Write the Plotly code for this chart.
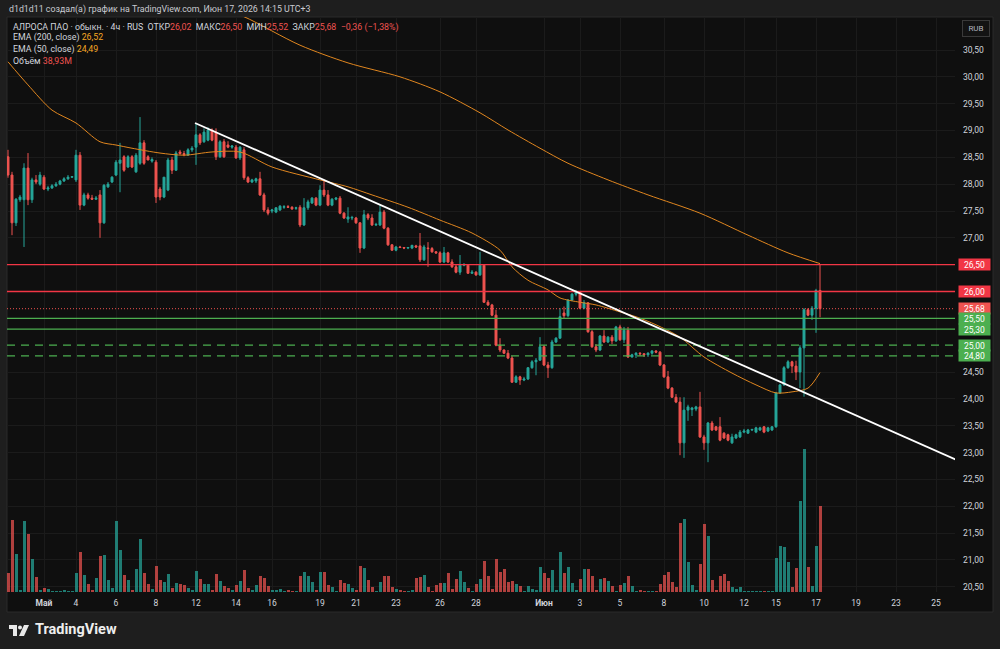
import plotly.graph_objects as go

# ---------------- data (ALROSA, 4h bars) ----------------
opens = [
28.51,28.17,27.28,27.71,27.71,28.30,27.71,28.08,28.00,28.13,
27.91,27.93,27.97,28.00,28.06,28.10,28.13,28.08,28.54,27.61,
27.80,27.74,27.72,27.80,27.28,27.95,28.04,28.17,28.39,28.51,
28.32,28.51,28.23,28.39,28.77,28.51,28.43,28.41,27.91,27.76,
27.89,28.45,28.26,28.60,28.57,28.54,28.64,28.69,28.92,28.79,
28.82,29.01,28.97,28.51,28.79,28.73,28.69,28.69,28.49,28.64,
28.12,28.04,28.06,28.10,27.80,27.52,27.50,27.48,27.52,27.57,
27.58,27.57,27.55,27.57,27.24,27.56,27.65,27.74,27.61,27.89,
27.80,27.61,27.72,27.74,27.46,27.35,27.37,27.37,27.28,26.81,
27.43,27.37,27.24,27.24,27.48,27.18,26.87,26.77,26.83,26.82,
26.81,26.81,26.85,26.85,26.59,26.81,26.80,26.74,26.72,26.55,
26.72,26.55,26.46,26.36,26.49,26.49,26.34,26.36,26.31,26.49,
25.80,25.75,25.56,25.00,24.91,24.85,24.76,24.31,24.41,24.35,
24.37,24.58,24.69,24.72,24.97,24.63,24.58,25.06,25.13,25.60,
25.55,25.84,25.95,25.99,25.69,25.79,25.25,24.97,24.91,25.17,
25.06,25.15,25.08,25.34,25.10,25.28,24.78,24.82,24.85,24.84,
24.82,24.85,24.89,24.87,24.63,24.41,24.20,24.03,23.94,23.18,
23.79,23.80,23.81,23.85,23.29,23.18,23.55,23.48,23.48,23.36,
23.33,23.18,23.27,23.29,23.38,23.36,23.42,23.38,23.42,23.48,
23.40,23.42,23.48,24.11,24.26,24.58,24.69,24.61,24.50,24.95,
25.66,25.56,25.69,26.02]
highs = [
28.64,28.23,27.74,27.80,28.39,28.58,28.12,28.17,28.23,28.17,
27.97,28.00,28.04,28.08,28.13,28.17,28.15,28.64,28.60,27.84,
27.84,27.80,27.78,27.89,28.00,28.04,28.15,28.45,28.77,28.54,
28.54,28.54,28.58,29.25,28.82,28.54,28.50,28.45,27.95,28.13,
28.49,28.51,28.62,28.64,28.62,28.67,28.71,29.14,28.95,29.04,
29.06,29.04,29.04,28.82,28.84,28.80,28.73,28.73,28.71,28.69,
28.15,28.10,28.12,28.23,27.84,27.57,27.54,27.57,27.61,27.61,
27.61,27.59,27.58,27.61,27.74,27.71,27.76,27.76,27.98,28.08,
27.89,27.74,27.76,27.78,27.48,27.57,27.41,27.39,27.29,27.52,
27.46,27.44,27.28,27.61,27.52,27.20,26.88,26.85,26.85,26.83,
26.83,26.87,26.87,27.09,26.87,26.92,26.83,26.75,26.75,26.83,
26.74,26.60,26.51,26.68,26.53,26.51,26.40,26.38,26.74,26.51,
25.84,25.77,25.66,25.13,24.92,24.91,24.80,24.44,24.43,24.41,
24.59,24.72,24.76,25.15,25.00,24.69,25.10,25.15,25.69,25.72,
25.86,25.97,26.03,26.01,25.84,25.80,25.28,25.02,25.19,25.28,
25.17,25.19,25.36,25.38,25.34,25.34,24.84,24.87,24.87,24.85,
24.87,24.91,24.91,24.89,24.65,24.52,24.22,24.09,24.03,24.03,
23.89,23.85,23.87,24.13,23.33,23.57,23.59,23.49,23.66,23.38,
23.35,23.35,23.35,23.42,23.44,23.44,23.44,23.48,23.48,23.49,
23.48,23.49,24.13,24.28,24.61,24.72,24.71,24.71,25.00,25.69,
25.69,25.73,26.05,26.50]
lows = [
28.12,27.05,27.22,27.67,26.83,27.61,27.65,28.00,27.97,27.89,
27.87,27.91,27.95,27.98,28.04,28.08,28.12,28.04,27.52,27.59,
27.71,27.71,27.71,27.00,27.26,27.93,28.02,28.15,27.85,28.23,
28.30,28.30,28.21,28.36,28.36,28.45,28.40,27.65,27.70,27.74,
27.87,28.19,28.25,28.55,28.52,28.53,28.60,28.36,28.73,28.77,
28.80,28.80,28.45,28.49,28.49,28.67,28.66,28.47,28.45,28.08,
28.02,28.02,28.02,27.78,27.48,27.42,27.46,27.46,27.50,27.54,
27.56,27.52,27.52,27.20,27.22,27.52,27.63,27.59,27.59,27.76,
27.59,27.59,27.70,27.44,27.35,27.28,27.33,27.26,26.72,26.79,
27.33,27.22,27.22,27.22,27.16,26.85,26.76,26.75,26.81,26.79,
26.79,26.79,26.81,26.55,26.57,26.46,26.72,26.70,26.53,26.53,
26.53,26.44,26.34,26.31,26.47,26.33,26.33,26.29,26.29,25.79,
25.73,25.54,24.98,24.87,24.84,24.74,24.30,24.30,24.26,24.33,
24.35,24.56,24.44,24.71,24.61,24.39,24.56,25.04,25.12,25.50,
25.52,25.82,25.91,25.67,25.67,25.23,24.95,24.87,24.89,25.04,
25.04,25.02,25.06,25.08,25.04,24.76,24.77,24.76,24.80,24.78,
24.78,24.82,24.85,24.61,24.39,24.18,24.02,23.92,22.95,22.90,
23.59,23.68,23.77,23.27,23.05,22.82,23.40,23.40,23.21,23.25,
23.21,23.16,23.25,23.27,23.36,23.35,23.40,23.36,23.40,23.36,
23.38,23.40,23.46,24.09,24.24,24.56,24.48,24.35,24.20,24.04,
25.54,25.47,25.23,25.52]
closes = [
28.17,27.28,27.72,27.76,28.30,27.71,28.08,28.04,28.17,27.91,
27.93,27.97,28.00,28.06,28.10,28.13,28.14,28.54,27.61,27.80,
27.74,27.72,27.74,27.28,27.98,28.00,28.13,28.41,28.45,28.26,
28.51,28.32,28.54,28.77,28.39,28.45,28.46,27.76,27.76,28.13,
28.45,28.26,28.58,28.57,28.55,28.64,28.67,28.92,28.77,28.97,
29.01,28.82,28.51,28.79,28.51,28.69,28.71,28.49,28.69,28.12,
28.04,28.08,28.10,27.80,27.52,27.46,27.52,27.56,27.59,27.58,
27.57,27.54,27.56,27.24,27.56,27.67,27.74,27.61,27.89,27.80,
27.61,27.72,27.74,27.46,27.37,27.39,27.38,27.28,26.81,27.43,
27.37,27.24,27.25,27.48,27.18,26.87,26.77,26.83,26.82,26.81,
26.82,26.86,26.83,26.59,26.83,26.80,26.74,26.72,26.55,26.72,
26.55,26.46,26.36,26.49,26.50,26.34,26.36,26.31,26.49,25.80,
25.75,25.56,25.00,24.91,24.85,24.76,24.31,24.41,24.35,24.37,
24.58,24.69,24.72,24.97,24.63,24.58,25.06,25.13,25.53,25.55,
25.84,25.95,25.99,25.69,25.79,25.25,24.97,24.91,25.17,25.06,
25.15,25.08,25.34,25.10,25.28,24.78,24.82,24.85,24.84,24.82,
24.85,24.89,24.87,24.63,24.41,24.20,24.03,23.94,23.18,23.79,
23.85,23.83,23.85,23.29,23.18,23.55,23.42,23.42,23.23,23.27,
23.23,23.29,23.33,23.38,23.40,23.42,23.43,23.46,23.46,23.38,
23.46,23.48,24.11,24.26,24.58,24.69,24.61,24.50,24.95,25.66,
25.56,25.69,26.02,25.68]
volumes_m = [
8.6,32.6,17.2,0.9,32.1,26.3,14.9,6.8,0.9,1.8,
1.4,0.5,0.5,0.5,0.9,0.5,0.5,8.6,18.1,7.7,
3.6,0.9,6.3,16.3,16.8,5.4,1.8,32.1,19.0,7.7,
5.4,0.9,10.4,24.0,8.6,3.6,1.4,11.8,5.4,4.5,
8.1,1.8,4.1,3.6,3.2,1.8,0.9,9.5,5.9,3.6,
3.6,0.9,8.1,5.0,2.7,1.8,0.9,3.2,5.0,10.0,
1.8,0.9,3.2,7.2,6.3,2.7,0.9,0.9,1.4,0.5,
0.9,0.5,0.5,7.2,9.1,7.2,4.5,0.9,9.1,9.1,
3.2,2.3,0.5,5.4,4.1,3.6,1.8,0.9,11.8,10.9,
5.4,2.3,0.5,4.5,7.2,7.2,2.3,1.4,0.9,0.5,
0.5,0.9,6.3,6.8,7.7,2.3,0.5,3.2,4.1,4.1,
8.6,1.4,5.9,9.5,4.5,1.8,0.5,3.6,5.9,14.0,
7.2,1.4,14.9,9.1,10.4,4.5,5.0,3.6,2.7,0.5,
2.7,1.4,0.9,11.3,8.6,6.3,10.0,0.9,18.1,8.6,
11.3,4.1,0.9,5.9,10.4,10.4,7.2,0.9,5.9,6.3,
5.0,2.7,0.5,3.2,4.1,7.2,2.7,0.5,0.9,0.5,
0.5,0.5,0.5,3.6,7.7,9.1,4.5,2.3,31.2,33.0,
13.6,3.2,0.9,12.7,30.8,25.4,5.4,0.9,7.2,8.1,
5.0,2.3,1.4,2.3,0.5,0.5,0.5,0.5,0.5,0.5,
0.5,0.5,15.4,20.8,20.4,13.6,2.3,10.9,41.2,64.7,
11.3,2.7,20.8,38.93]

ema200_bar = [52, 59, 73, 85, 98, 108, 118, 125, 133, 140, 150, 160, 173, 185, 195, 203]
ema200_val = [31.30, 31.12, 30.59, 30.26, 30.00, 29.72, 29.33, 29.01, 28.67, 28.39, 28.08, 27.80, 27.46, 27.05, 26.72, 26.52]
ema50_bar = [0, 5, 11, 17, 23, 27, 31, 38, 44, 51, 58, 66, 78, 85, 91, 100, 108, 116, 123, 126, 130, 135, 138,
             143, 147, 153, 157, 162, 168, 174, 181, 187, 192, 196, 200, 203]
ema50_val = [30.28, 29.85, 29.38, 29.14, 28.79, 28.73, 28.67, 28.58, 28.54, 28.60, 28.60, 28.32, 28.08, 27.95, 27.80,
             27.57, 27.33, 27.09, 26.77, 26.46, 26.21, 26.03, 25.88, 25.80, 25.75, 25.62, 25.53, 25.38, 25.15, 24.78,
             24.48, 24.26, 24.11, 24.13, 24.20, 24.49]

trend_bar = [46.75, 237.25]
trend_price = [29.14, 22.86]

red_levels = [26.50, 26.00]
green_levels = [25.50, 25.30]
green_dashed_levels = [25.00, 24.80]
last_price = 25.68

price_ticks = [20.5, 21.0, 21.5, 22.0, 22.5, 23.0, 23.5, 24.0, 24.5, 27.0, 27.5, 28.0, 28.5, 29.0, 29.5, 30.0, 30.5]
time_tick_bars = [9, 17, 27, 37, 47, 57, 66, 78, 87, 97, 108, 117, 134, 143, 153, 164, 174, 184, 192, 202, 212, 222, 232]
time_tick_text = ["<b>Май</b>", "4", "6", "8", "12", "14", "16", "19", "21", "23", "26", "28",
                  "<b>Июн</b>", "3", "5", "8", "10", "12", "15", "17", "19", "23", "25"]

# ---------------- layout helpers (pixel -> paper) ----------------
W, H = 1000, 649
L, R, T, B = 7, 45, 17, 57
PW, PH = W - L - R, H - T - B
def px(x):
    return (x - L) / PW
def py(y):
    return (H - B - y) / PH

FONT = "Roboto, 'Open Sans', sans-serif"
TXT = "#d1d4dc"
RED = "#ef5350"
GREEN = "#26a69a"
LRED = "#f23645"
LGREEN = "#4caf50"
ORANGE = "#e0861f"

bars = list(range(len(closes)))
vol_colors = ["rgba(38,166,154,0.72)" if c >= o else "rgba(239,83,80,0.72)" for o, c in zip(opens, closes)]

fig = go.Figure()
fig.add_trace(go.Bar(x=bars, y=volumes_m, marker=dict(color=vol_colors, line=dict(width=0)),
                     width=0.75, yaxis="y2", hoverinfo="skip"))
fig.add_trace(go.Candlestick(x=bars, open=opens, high=highs, low=lows, close=closes,
                             increasing=dict(line=dict(color=GREEN, width=1), fillcolor=GREEN),
                             decreasing=dict(line=dict(color=RED, width=1), fillcolor=RED),
                             whiskerwidth=0, hoverinfo="skip"))
fig.add_trace(go.Scatter(x=ema200_bar, y=ema200_val, mode="lines",
                         line=dict(color=ORANGE, width=1, shape="spline", smoothing=0.8), hoverinfo="skip"))
fig.add_trace(go.Scatter(x=ema50_bar, y=ema50_val, mode="lines",
                         line=dict(color=ORANGE, width=1, shape="spline", smoothing=0.8), hoverinfo="skip"))

shapes = []
# chart panel background
shapes.append(dict(type="rect", xref="paper", yref="paper", x0=px(7), x1=px(993), y0=py(612), y1=py(17),
                   fillcolor="#0f0f0f", line=dict(color="#2a2a2a", width=1), layer="below"))
for lv in red_levels:
    shapes.append(dict(type="line", xref="paper", yref="y", x0=0, x1=1, y0=lv, y1=lv,
                       line=dict(color=LRED, width=1.3)))
for lv in green_levels:
    shapes.append(dict(type="line", xref="paper", yref="y", x0=0, x1=1, y0=lv, y1=lv,
                       line=dict(color=LGREEN, width=1.3)))
for lv in green_dashed_levels:
    shapes.append(dict(type="line", xref="paper", yref="y", x0=0, x1=1, y0=lv, y1=lv,
                       line=dict(color=LGREEN, width=1.3, dash="8px,6px")))
shapes.append(dict(type="line", xref="paper", yref="y", x0=0, x1=1, y0=last_price, y1=last_price,
                   line=dict(color=RED, width=1, dash="1px,2px")))
shapes.append(dict(type="line", xref="x", yref="y", x0=trend_bar[0], y0=trend_price[0],
                   x1=trend_bar[1], y1=trend_price[1], line=dict(color="#ffffff", width=1.8)))
# TradingView logo glyph
shapes.append(dict(type="rect", xref="paper", yref="paper", x0=px(9), x1=px(17), y0=py(629), y1=py(625),
                   fillcolor="#e8e8e8", line=dict(width=0)))
shapes.append(dict(type="rect", xref="paper", yref="paper", x0=px(13), x1=px(17), y0=py(636), y1=py(625),
                   fillcolor="#e8e8e8", line=dict(width=0)))
shapes.append(dict(type="circle", xref="paper", yref="paper", x0=px(18), x1=px(22), y0=py(629.5), y1=py(625.5),
                   fillcolor="#e8e8e8", line=dict(width=0)))
shapes.append(dict(type="path", xref="paper", yref="paper",
                   path=f"M {px(24)} {py(625)} L {px(29)} {py(625)} L {px(24)} {py(636)} L {px(19)} {py(636)} Z",
                   fillcolor="#e8e8e8", line=dict(width=0)))

ann = []
def text(x, y, s, size=8.5, color=TXT, anchor="left"):
    ann.append(dict(xref="paper", yref="paper", x=px(x), y=py(y), text=s, showarrow=False,
                    xanchor=anchor, yanchor="middle", font=dict(family=FONT, size=size, color=color)))

text(7, 10, "d1d1d11 создал(а) график на TradingView.com, Июн 17, 2026 14:15 UTC+3", size=8.8, color="#c9cbd1")
sp = lambda s, c: f"<span style='color:{c}'>{s}</span>"
text(11, 27, "АЛРОСА ПАО · обыкн. · 4ч · RUS  ОТКР" + sp("26,02", RED) + "  МАКС" + sp("26,50", RED)
     + "  МИН" + sp("25,52", RED) + "  ЗАКР" + sp("25,68  −0,36 (−1,38%)", RED), size=8.8)
text(11, 38, "EMA (200, close) " + sp("26,52", "#f5a623"), size=8.8)
text(11, 49.5, "EMA (50, close) " + sp("24,49", "#f5a623"), size=8.8)
text(11, 61, "Объём " + sp("38,93M", RED), size=8.8)
text(33, 630, "<b>TradingView</b>", size=14.5, color="#eeeeee")

# price-scale badges
badges = [(26.50, LRED), (26.00, LRED), (last_price, RED), (25.50, LGREEN), (25.30, LGREEN),
          (25.00, LGREEN), (24.80, LGREEN)]
for v, c in badges:
    ann.append(dict(xref="paper", yref="y", x=px(974), y=v, text=f"{v:.2f}".replace(".", ","),
                    showarrow=False, xanchor="center", yanchor="middle", bgcolor=c, width=31, height=11,
                    borderpad=0, font=dict(family=FONT, size=8.5, color="#ffffff")))
ann.append(dict(xref="paper", yref="paper", x=px(976), y=py(29), text="RUB", showarrow=False,
                xanchor="center", yanchor="middle", width=24, height=13, bgcolor="#131313",
                bordercolor="#3a3a3a", borderwidth=1, borderpad=1, font=dict(family=FONT, size=8, color="#b2b5be")))

fig.update_layout(
    width=W, height=H, margin=dict(l=L, r=R, t=T, b=B),
    paper_bgcolor="#1e1e1e", plot_bgcolor="#0f0f0f",
    showlegend=False, hovermode=False, dragmode=False,
    shapes=shapes, annotations=ann,
    xaxis=dict(range=[-0.25, 236.75], rangeslider=dict(visible=False), tickmode="array",
               tickvals=time_tick_bars, ticktext=time_tick_text, showgrid=True, gridcolor="#1b1b1b",
               gridwidth=1, zeroline=False, showline=False, ticks="", ticklabelstandoff=4,
               tickfont=dict(family=FONT, size=8.5, color=TXT), fixedrange=True),
    yaxis=dict(range=[20.401, 31.115], side="right", tickmode="array", tickvals=price_ticks,
               ticktext=[f"{v:.2f}".replace(".", ",") for v in price_ticks], showgrid=True,
               gridcolor="#1b1b1b", gridwidth=1, zeroline=False, showline=False, ticks="",
               ticklabelstandoff=7, tickfont=dict(family=FONT, size=8.5, color=TXT), fixedrange=True),
    yaxis2=dict(range=[0, 260.3], overlaying="y", visible=False, fixedrange=True),
    bargap=0,
)
fig.write_html("out.html")
